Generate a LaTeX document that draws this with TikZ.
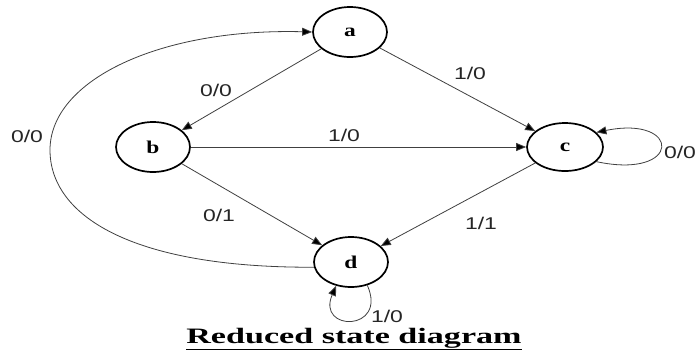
\documentclass[tikz,border=0pt]{standalone}
\usepackage{fontspec}
\setmainfont{Liberation Serif}
\newfontfamily\lblfont{Liberation Sans}
\usetikzlibrary{arrows.meta,shapes.geometric}
\newcommand{\widetxt}[2]{\scalebox{#1}[1]{#2}}
\begin{document}
\begin{tikzpicture}[x=1pt,y=-1pt,
  state/.style={draw=black,line width=1.7pt,ellipse,minimum width=74pt,minimum height=50pt,inner sep=0pt,font=\bfseries\fontsize{18}{18}\selectfont},
  edge/.style={draw=black!75,line width=0.8pt,-{Triangle[length=10pt,width=8pt,fill=black]}},
  lbl/.style={font=\lblfont\fontsize{17}{17}\selectfont,inner sep=0pt,text=black!85}]
\useasboundingbox (0,0) rectangle (697,349);
\fill[white] (0,0) rectangle (697,349);
\node[state] (a) at (350,32) {\widetxt{1.3}{a}};
\node[state] (b) at (153,147) {\widetxt{1.3}{b}};
\node[state,minimum width=76pt,minimum height=48pt] (c) at (565,147) {\widetxt{1.3}{c}};
\node[state] (d) at (351,262) {\widetxt{1.3}{d}};
% straight edges
\draw[edge] (a) -- (b);
\draw[edge] (a) -- (c);
\draw[edge] (b) -- (c);
\draw[edge] (b) -- (d);
\draw[edge] (c) -- (d);
% big loop d -> a
\coordinate (dl) at (d.188);
\draw[edge] (dl) .. controls (130,268) and (50,215) .. (50,150) .. controls (50,80) and (160,28) .. (a.west);
% self loops
\draw[edge] (c.-25) .. controls (682,180) and (682,115) .. (c.25);
\draw[edge] (d.-55) .. controls (388,332) and (316,332) .. (d.-122);
% labels
\node[lbl] (l1) at (216,90) {\widetxt{1.35}{0/0}};
\node[lbl] (l2) at (470,73) {\widetxt{1.35}{1/0}};
\node[lbl] (l3) at (344,135) {\widetxt{1.35}{1/0}};
\node[lbl] (l4) at (219,215) {\widetxt{1.35}{0/1}};
\node[lbl] (l5) at (481,223) {\widetxt{1.35}{1/1}};
\node[lbl] (l6) at (27,136) {\widetxt{1.35}{0/0}};
\node[lbl] (l7) at (680,152) {\widetxt{1.35}{0/0}};
\node[lbl] (l8) at (387,316) {\widetxt{1.35}{1/0}};
\node[font=\bfseries\fontsize{22}{22}\selectfont,inner sep=0pt,anchor=base] (t) at (354,343) {\widetxt{1.55}{\underline{Reduced state diagram}}};
\end{tikzpicture}
\end{document}
